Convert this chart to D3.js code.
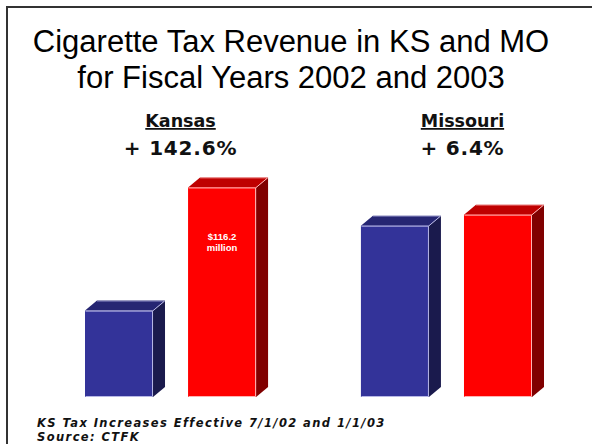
<!DOCTYPE html>
<html>
<head>
<meta charset="utf-8">
<script src="https://cdn.jsdelivr.net/npm/d3@7"></script>
<style>
  html, body { margin: 0; padding: 0; background: #fff; }
  svg { display: block; }
</style>
</head>
<body>
<svg id="chart" width="592" height="444"></svg>
<script>
// Cigarette tax revenue, $ millions, by state and fiscal year
const states = ["Kansas", "Missouri"];
const stateChange = ["+ 142.6%", "+ 6.4%"];
const years = ["2002", "2003"];
const revenue2002 = [47.9, 95.0];
const revenue2003 = [116.2, 101.1];
const labeledBar = { state: "Kansas", year: "2003" };

const titleLines = ["Cigarette Tax Revenue in KS and MO", "for Fiscal Years 2002 and 2003"];
const footnotes = ["KS Tax Increases Effective 7/1/02 and 1/1/03", "Source: CTFK"];

// Layout
const W = 592, H = 444;
const baseY = 397;
const depthX = 12, depthY = 10;
const headerShift = [10, 16];

const palette = {
  "2002": { front: "#333399", top: "#262673", side: "#1a1a4d", edge: "#b8b8e6" },
  "2003": { front: "#ff0000", top: "#bf0000", side: "#800000", edge: "#ffb3b3" }
};

const rows = [];
states.forEach((s, i) => {
  rows.push({ state: s, year: "2002", value: revenue2002[i] });
  rows.push({ state: s, year: "2003", value: revenue2003[i] });
});

const svg = d3.select("#chart");

// Slide frame
svg.append("rect")
  .attr("x", 7).attr("y", 7)
  .attr("width", W + 10).attr("height", H + 10)
  .attr("fill", "#fff")
  .attr("stroke", "#333").attr("stroke-width", 2);

// Title
svg.append("g").selectAll("text")
  .data(titleLines)
  .join("text")
  .attr("x", 291)
  .attr("y", (d, i) => 52 + i * 36)
  .attr("text-anchor", "middle")
  .attr("font-family", "Liberation Sans, Arial, sans-serif")
  .attr("font-size", 31)
  .attr("fill", "#000")
  .text(d => d);

// Scales
const x0 = d3.scaleBand().domain(states).range([85, 532]).paddingInner(0.38).paddingOuter(0);
const x1 = d3.scaleBand().domain(years).range([0, x0.bandwidth()]).paddingInner(0.34).paddingOuter(0);
const y = d3.scaleLinear().domain([0, 120]).range([baseY, baseY - 216.4]);

// State headers
const headers = svg.append("g")
  .attr("font-family", "DejaVu Sans, Verdana, sans-serif")
  .attr("font-weight", "bold")
  .attr("text-anchor", "middle")
  .attr("fill", "#111");

states.forEach((s, i) => {
  const cx = x0(s) + x0.bandwidth() / 2 + headerShift[i];
  headers.append("text")
    .attr("x", cx).attr("y", 127)
    .attr("font-size", 17.5)
    .attr("text-decoration", "underline")
    .text(s);
  headers.append("text")
    .attr("x", cx).attr("y", 155)
    .attr("font-size", 20)
    .attr("letter-spacing", 0.8)
    .text(stateChange[i]);
});

// 3D bars
const bars = svg.append("g").selectAll("g")
  .data(rows)
  .join("g")
  .attr("transform", d => `translate(${x0(d.state) + x1(d.year)},0)`);

bars.each(function(d) {
  const g = d3.select(this);
  const w = x1.bandwidth();
  const top = y(d.value);
  const c = palette[d.year];
  // side face
  g.append("path")
    .attr("d", `M${w},${top} L${w + depthX},${top - depthY} L${w + depthX},${baseY - depthY} L${w},${baseY} Z`)
    .attr("fill", c.side);
  // top face
  g.append("path")
    .attr("d", `M0,${top} L${depthX},${top - depthY} L${w + depthX},${top - depthY} L${w},${top} Z`)
    .attr("fill", c.top);
  // front face
  g.append("rect")
    .attr("x", 0).attr("y", top)
    .attr("width", w).attr("height", baseY - top)
    .attr("fill", c.front);
  // highlight edges
  g.append("path")
    .attr("d", `M0.5,${top + 0.5} L${w - 0.5},${top + 0.5} L${w - 0.5},${baseY - 0.5} L0.5,${baseY - 0.5} M${w - 0.5},${top + 0.5} L${w + depthX - 0.5},${top - depthY + 0.5}`)
    .attr("fill", "none")
    .attr("stroke", c.edge)
    .attr("stroke-width", 1);
  g.append("path")
    .attr("d", `M${depthX},${top - depthY + 0.5} L${w + depthX - 0.5},${top - depthY + 0.5}`)
    .attr("fill", "none")
    .attr("stroke", c.edge)
    .attr("stroke-opacity", 0.6)
    .attr("stroke-width", 1);

  if (d.state === labeledBar.state && d.year === labeledBar.year) {
    const t = g.append("text")
      .attr("text-anchor", "middle")
      .attr("font-family", "Liberation Sans, Arial, sans-serif")
      .attr("font-weight", "bold")
      .attr("font-size", 9.5)
      .attr("fill", "#fff");
    t.append("tspan").attr("x", w / 2).attr("y", top + 53).text(`$${d.value.toFixed(1)}`);
    t.append("tspan").attr("x", w / 2).attr("y", top + 64).text("million");
  }
});

// Footnotes
svg.append("g").selectAll("text")
  .data(footnotes)
  .join("text")
  .attr("x", 37)
  .attr("y", (d, i) => 427 + i * 14)
  .attr("font-family", "DejaVu Sans, Verdana, sans-serif")
  .attr("font-weight", "bold")
  .attr("font-style", "italic")
  .attr("font-size", 11.5)
  .attr("letter-spacing", 1.4)
  .attr("fill", "#111")
  .text(d => d);
</script>
</body>
</html>
